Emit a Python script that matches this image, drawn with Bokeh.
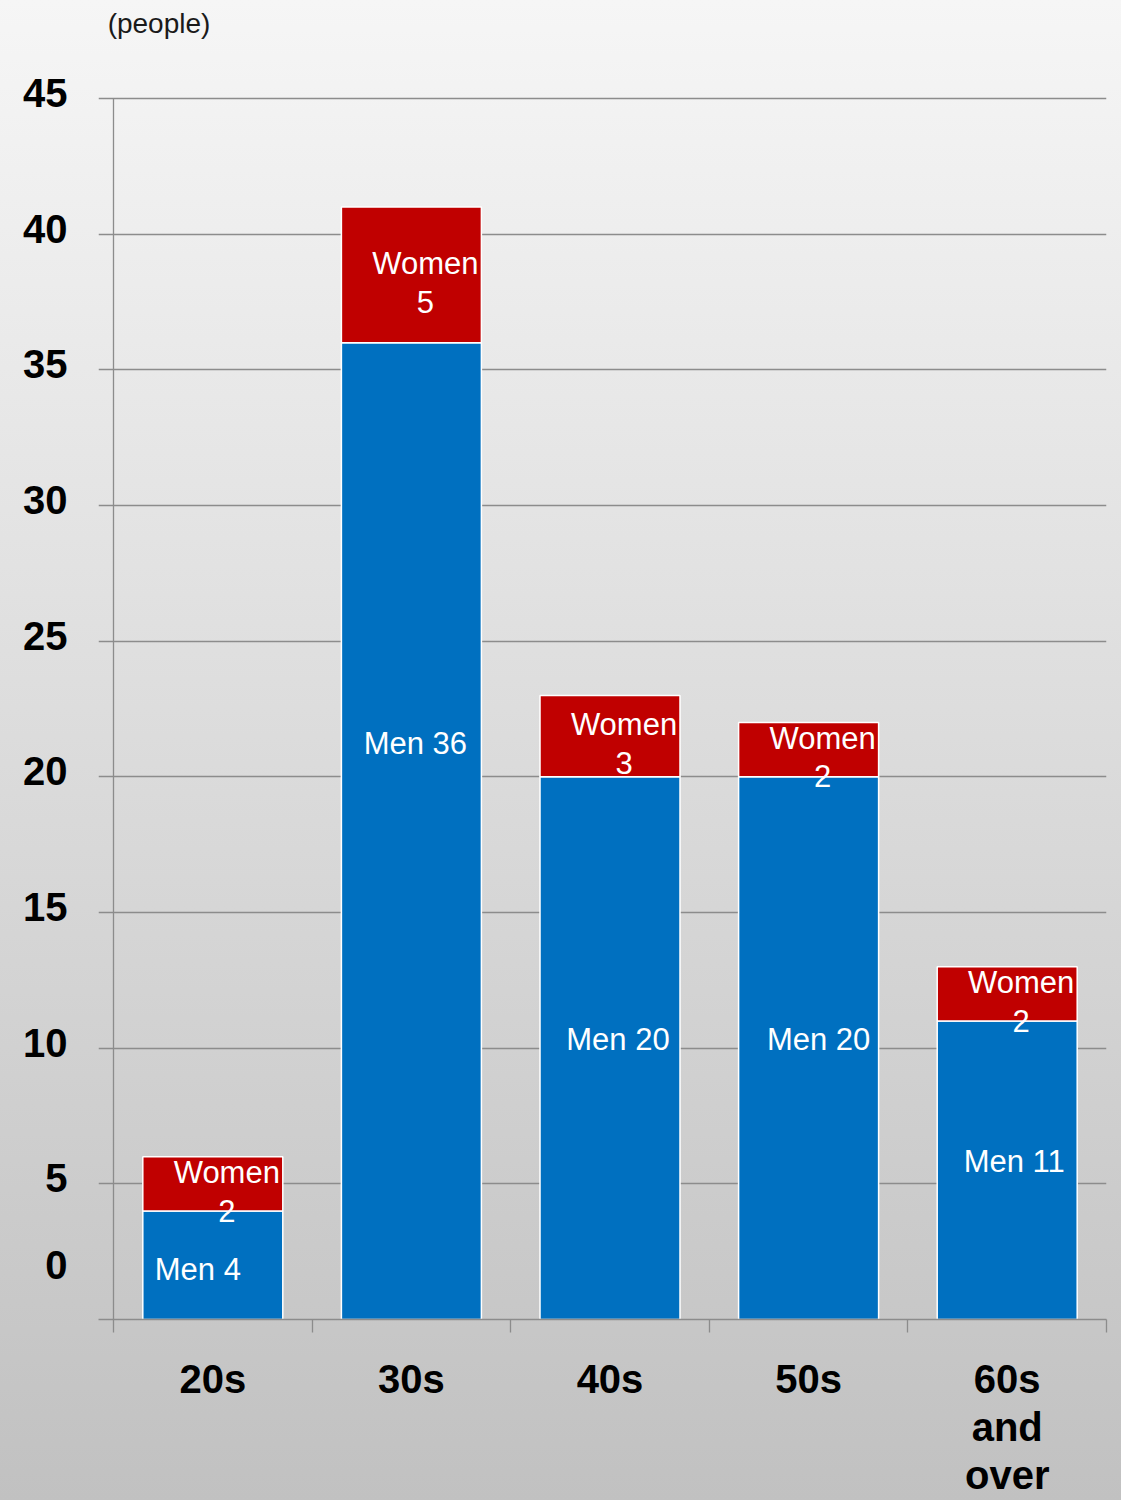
from bokeh.plotting import figure
from bokeh.models import (ColumnDataSource, Range1d, FixedTicker, LinearAxis)
from bokeh.core.properties import value
from bokeh.embed import file_html
from bokeh.resources import INLINE

# ---- data ----
categories = ["20s", "30s", "40s", "50s", "60s\nand\nover"]
men = [4, 36, 20, 20, 11]
women = [2, 5, 3, 2, 2]
y_ticks = [0, 5, 10, 15, 20, 25, 30, 35, 40, 45]
unit_label = "(people)"

# ---- styles ----
BLUE = "#0070C0"
RED = "#C00000"
GRID = "#8c8c8c"
FONT = "Liberation Sans"
PX_X = 198.6      # pixels per category
PX_Y = 27.156     # pixels per person
men_dx = [-15, 4, 8, 10, 7]
men_dy = [4, -88, -9, -9, -9]

xs = [i + 0.5 for i in range(len(categories))]
tops = [m + w for m, w in zip(men, women)]

src = ColumnDataSource(dict(
    x=xs, men=men, women=women, top=tops,
    men_y=[m / 2 for m in men],
    women_y=[m + w / 2 for m, w in zip(men, women)],
    men_text=["Men %d" % m for m in men],
    women_text=["Women\n%d" % w for w in women],
    men_dx=men_dx, men_dy=men_dy,
))

ymax = max(y_ticks)
p = figure(width=1121, height=1500, output_backend="svg", toolbar_location=None,
           x_range=Range1d(-15 / PX_X, len(categories)),
           y_range=Range1d(0, ymax + 8 / PX_Y),
           min_border_left=98, min_border_right=15, min_border_top=90,
           min_border_bottom=180)
p.styles = {"background-image": "linear-gradient(to bottom, #f6f6f6, #c1c1c1)"}
p.background_fill_color = None
p.border_fill_color = None
p.outline_line_color = None

# grid
p.xgrid.visible = False
p.ygrid.ticker = FixedTicker(ticks=y_ticks)
p.ygrid.grid_line_color = GRID
p.ygrid.grid_line_width = 1.3

# y axis (labels only, drawn slightly above their grid lines)
label_pos = [2.0 if t == 0 else t + 0.2 for t in y_ticks]
ya = p.yaxis[0]
ya.ticker = FixedTicker(ticks=label_pos)
ya.major_label_overrides = {lp: str(t) for lp, t in zip(label_pos, y_ticks)}
ya.axis_line_color = None
ya.major_tick_line_color = None
ya.minor_tick_line_color = None
ya.major_label_standoff = 25
ya.major_label_text_font = FONT
ya.major_label_text_font_style = "bold"
ya.major_label_text_font_size = "40px"
ya.major_label_text_color = "#000000"

# x axis
xa = p.xaxis[0]
xa.ticker = FixedTicker(ticks=xs, minor_ticks=list(range(len(categories) + 1)))
xa.major_label_overrides = {x: c for x, c in zip(xs, categories)}
xa.axis_line_color = GRID
xa.axis_line_width = 1.3
xa.major_tick_line_color = None
xa.minor_tick_line_color = GRID
xa.minor_tick_line_width = 1.3
xa.minor_tick_out = 13
xa.minor_tick_in = 0
xa.major_label_standoff = 24
xa.major_label_text_font = FONT
xa.major_label_text_font_style = "bold"
xa.major_label_text_font_size = "40px"
xa.major_label_text_color = "#000000"
xa.major_label_text_line_height = 1.10

# unit label as a tick-less axis above the plot
unit_pos = 45.5 / PX_X
top_axis = LinearAxis(ticker=FixedTicker(ticks=[unit_pos]),
                      major_label_overrides={unit_pos: unit_label})
top_axis.axis_line_color = None
top_axis.major_tick_line_color = None
top_axis.minor_tick_line_color = None
top_axis.major_label_standoff = 46
top_axis.major_label_text_font = FONT
top_axis.major_label_text_font_size = "28px"
top_axis.major_label_text_color = "#1a1a1a"
p.add_layout(top_axis, "above")

# vertical axis line
p.segment(x0=[0], y0=[0], x1=[0], y1=[ymax], line_color=GRID, line_width=1.3)

# bars
bw = 140 / PX_X
p.vbar(x="x", width=bw, bottom=0, top="men", source=src,
       fill_color=BLUE, line_color="white", line_width=1.5)
p.vbar(x="x", width=bw, bottom="men", top="top", source=src,
       fill_color=RED, line_color="white", line_width=1.5)

# labels
p.text(x="x", y="men_y", text="men_text", source=src, x_offset="men_dx",
       y_offset="men_dy", text_align="center", text_baseline="middle",
       text_color="white", text_font=value(FONT), text_font_size="31px")
p.text(x="x", y="women_y", text="women_text", source=src, x_offset=14,
       y_offset=8, text_align="center", text_baseline="middle",
       text_color="white", text_font=value(FONT), text_font_size="31px",
       text_line_height=1.1)

open("out.html", "w").write(file_html(p, INLINE))
